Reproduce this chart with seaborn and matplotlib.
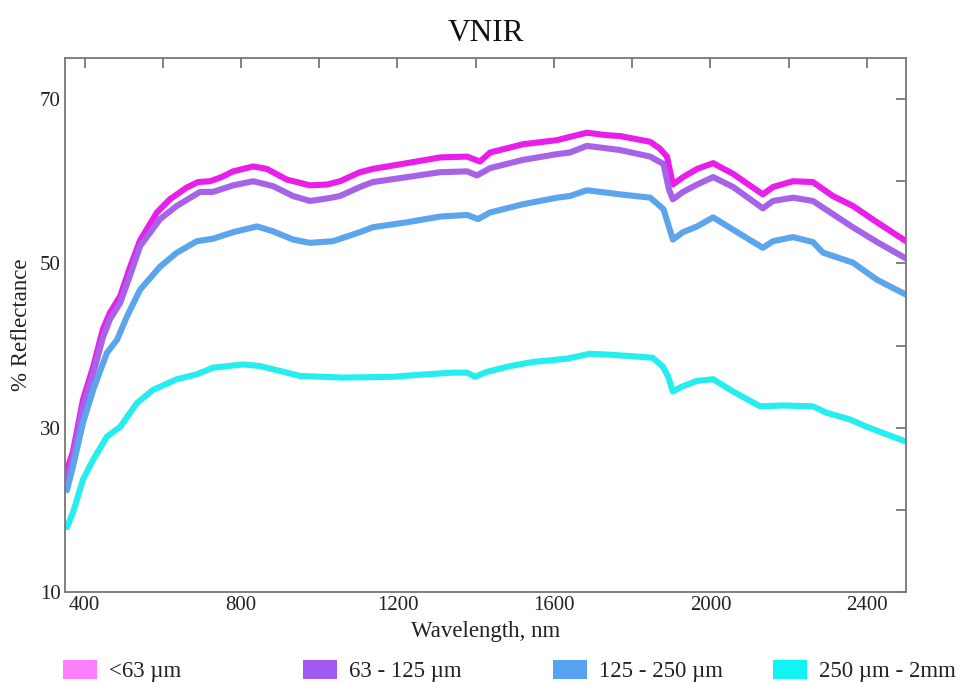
import matplotlib
matplotlib.use("Agg")
import matplotlib.pyplot as plt
from matplotlib.patches import Patch
import seaborn as sns
import pandas as pd

# Reflectance spectra (% reflectance vs wavelength, nm) for four grain-size fractions
wl_fine = [355, 370, 396, 422, 447, 465, 491, 516, 542, 585, 618, 660, 690, 721, 750,
           780, 831, 866, 917, 976, 1020, 1053, 1104, 1137, 1224, 1309, 1378, 1411,
           1437, 1521, 1608, 1641, 1684, 1736, 1769, 1846, 1870, 1889, 1904, 1930,
           1966, 2007, 2058, 2134, 2160, 2211, 2262, 2313, 2364, 2426, 2500]
refl_fine = [24.9, 27.0, 33.4, 37.4, 42.0, 44.0, 46.0, 49.5, 52.8, 56.2, 57.8, 59.2,
             59.9, 60.0, 60.5, 61.2, 61.8, 61.5, 60.2, 59.5, 59.6, 60.0, 61.1, 61.5,
             62.2, 62.9, 63.0, 62.4, 63.5, 64.5, 65.0, 65.4, 65.9, 65.6, 65.5, 64.8,
             64.0, 63.0, 59.6, 60.5, 61.5, 62.2, 60.9, 58.4, 59.3, 60.0, 59.9, 58.2,
             57.0, 55.0, 52.7]

wl_63_125 = [355, 370, 396, 422, 447, 465, 491, 516, 542, 593, 636, 695, 728, 780, 831,
             882, 933, 976, 1020, 1053, 1104, 1137, 1224, 1309, 1378, 1403, 1437, 1521,
             1608, 1641, 1684, 1736, 1769, 1846, 1880, 1894, 1904, 1930, 1966, 2007,
             2058, 2134, 2160, 2211, 2262, 2313, 2364, 2426, 2500]
refl_63_125 = [23.8, 26.3, 32.5, 36.6, 41.0, 43.2, 45.2, 48.5, 52.1, 55.4, 57.0, 58.7,
               58.7, 59.5, 60.0, 59.4, 58.2, 57.6, 57.9, 58.2, 59.3, 59.9, 60.5, 61.1,
               61.2, 60.7, 61.6, 62.6, 63.3, 63.5, 64.3, 64.0, 63.8, 63.0, 62.1, 59.0,
               57.8, 58.7, 59.6, 60.5, 59.3, 56.7, 57.6, 58.0, 57.6, 56.0, 54.4, 52.6,
               50.6]

wl_125_250 = [355, 370, 396, 422, 457, 483, 508, 542, 593, 636, 687, 728, 780, 841, 882,
              933, 976, 1035, 1104, 1137, 1224, 1309, 1378, 1406, 1437, 1521, 1608, 1641,
              1684, 1736, 1769, 1846, 1880, 1904, 1930, 1966, 2007, 2058, 2134, 2160,
              2211, 2262, 2288, 2364, 2426, 2500]
refl_125_250 = [22.4, 25.2, 30.6, 34.6, 39.1, 40.7, 43.5, 46.8, 49.6, 51.3, 52.7, 53.0,
                53.8, 54.5, 53.9, 52.9, 52.5, 52.7, 53.8, 54.4, 55.0, 55.7, 55.9, 55.4,
                56.2, 57.2, 58.0, 58.2, 58.9, 58.6, 58.4, 58.0, 56.6, 52.9, 53.8, 54.5,
                55.6, 54.1, 51.9, 52.7, 53.2, 52.6, 51.3, 50.1, 48.0, 46.2]

wl_coarse = [355, 370, 396, 422, 457, 491, 534, 575, 636, 687, 728, 805, 849, 951, 1061,
             1188, 1275, 1341, 1378, 1398, 1429, 1488, 1546, 1633, 1692, 1736, 1802,
             1853, 1879, 1892, 1904, 1927, 1966, 2007, 2058, 2127, 2186, 2262, 2298,
             2357, 2400, 2500]
refl_coarse = [17.9, 19.6, 23.7, 26.1, 28.9, 30.1, 33.0, 34.6, 35.9, 36.5, 37.3, 37.7,
               37.5, 36.3, 36.1, 36.2, 36.5, 36.7, 36.7, 36.2, 36.8, 37.5, 38.0, 38.4,
               39.0, 38.9, 38.7, 38.5, 37.4, 36.2, 34.4, 35.0, 35.7, 35.9, 34.4, 32.6,
               32.7, 32.6, 31.8, 31.0, 30.1, 28.3]

series_labels = ["<63 \u00b5m", "63 - 125 \u00b5m", "125 - 250 \u00b5m", "250 \u00b5m - 2mm"]
x_ticks = [400, 600, 800, 1000, 1200, 1400, 1600, 1800, 2000, 2200, 2400]
x_tick_labels = ["400", "", "800", "", "1200", "", "1600", "", "2000", "", "2400"]
y_ticks = [10, 20, 30, 40, 50, 60, 70]
y_tick_labels = ["10", "", "30", "", "50", "", "70"]

line_colors = ["#EA1EEA", "#A663E8", "#5BA5EC", "#26EEEE"]
legend_colors = ["#FF80FF", "#A05AF0", "#58A2F2", "#10F4F4"]

sns.set_style("white")
plt.rcParams["font.family"] = ["Liberation Serif", "DejaVu Serif"]

fig = plt.figure(figsize=(9.6, 6.82), dpi=100)
ax = fig.add_axes([65 / 960, 1 - 592 / 682, (906 - 65) / 960, (592 - 58) / 682])

spectra = [(wl_fine, refl_fine), (wl_63_125, refl_63_125),
           (wl_125_250, refl_125_250), (wl_coarse, refl_coarse)]
for (wl, refl), color in zip(spectra, line_colors):
    df = pd.DataFrame({"wl": wl, "refl": refl})
    sns.lineplot(data=df, x="wl", y="refl", ax=ax, color=color, linewidth=4.4,
                 solid_capstyle="round", solid_joinstyle="round", legend=False)

ax.set_xlim(350, 2500)
ax.set_ylim(10, 75)
ax.set_xticks(x_ticks)
ax.set_xticklabels(x_tick_labels)
ax.set_yticks(y_ticks)
ax.set_yticklabels(y_tick_labels)
ax.tick_params(axis="both", which="both", direction="in", length=7, width=1.3,
               color="#777777", labelsize=15, labelcolor="#222222",
               top=True, right=True, pad=3)

for side in ["left", "right", "top", "bottom"]:
    ax.spines[side].set_visible(True)
    ax.spines[side].set_color("#777777")
    ax.spines[side].set_linewidth(1.3)

ax.set_xlabel("Wavelength, nm", fontsize=16.5, color="#222222")
ax.set_ylabel("% Reflectance", fontsize=16.5, color="#222222")
ax.xaxis.set_label_coords(0.5, -0.055)
ax.yaxis.set_label_coords(-0.039, 0.5)
ax.set_title("VNIR", fontsize=22.5, color="#111111", pad=12)

# Legend row below the axes
legend_x = [63, 303, 553, 773]
for lx, label, color in zip(legend_x, series_labels, legend_colors):
    handle = Patch(facecolor=color, edgecolor="none", label=label)
    fig.legend(handles=[handle], loc="center left",
               bbox_to_anchor=(lx / 960, 1 - 671 / 682), frameon=False,
               fontsize=16.5, borderpad=0, borderaxespad=0,
               handlelength=1.5, handleheight=0.95, handletextpad=0.5,
               labelcolor="#222222")

fig.savefig("out.png", dpi=100)
